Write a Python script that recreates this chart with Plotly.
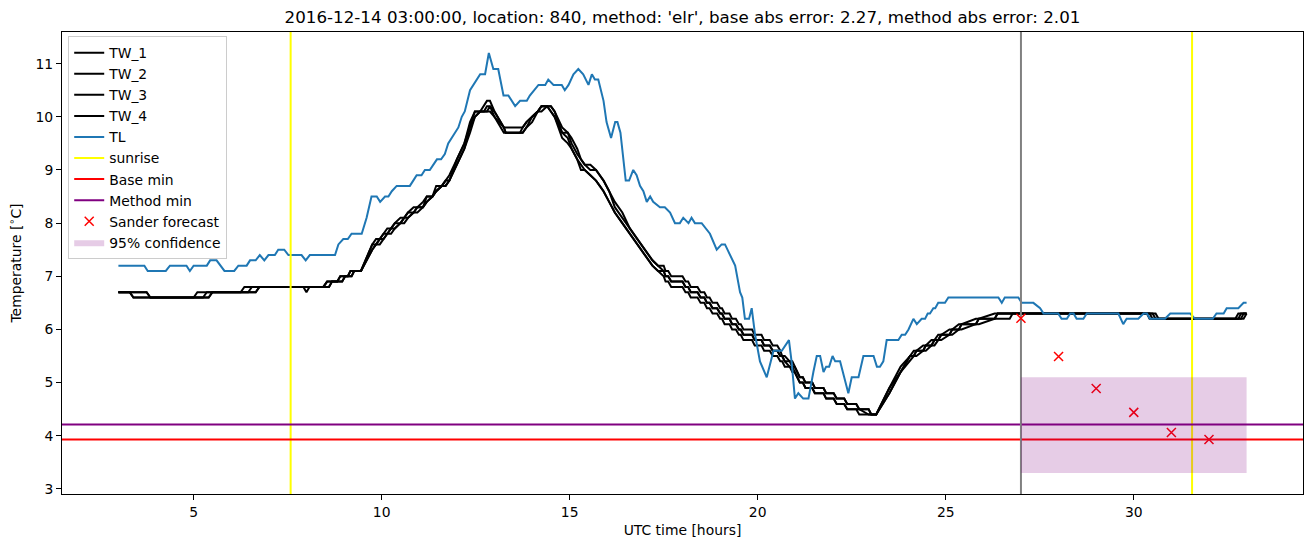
import plotly.graph_objects as go

# ---------------- data ----------------
tl_hours = [3.0, 3.69, 3.78, 4.26, 4.37, 4.81, 4.9, 5.0, 5.35, 5.44, 5.61, 5.72, 5.82, 6.08, 6.19, 6.41,
            6.5, 6.65, 6.76, 6.88, 6.99, 7.16, 7.25, 7.41, 7.52, 7.87, 7.98, 8.09, 8.76, 8.85, 8.98, 9.1,
            9.2, 9.47, 9.6, 9.73, 9.87, 9.96, 10.09, 10.18, 10.27, 10.4, 10.75, 10.84, 10.93, 11.06, 11.15,
            11.28, 11.38, 11.47, 11.58, 11.68, 11.77, 11.94, 12.04, 12.13, 12.21, 12.35, 12.53, 12.62, 12.75,
            12.85, 12.97, 13.1, 13.24, 13.37, 13.55, 13.68, 13.86, 13.94, 14.17, 14.35, 14.43, 14.57, 14.79,
            14.87, 14.97, 15.1, 15.23, 15.36, 15.5, 15.59, 15.67, 15.76, 15.9, 15.98, 16.1, 16.21, 16.27,
            16.35, 16.49, 16.58, 16.69, 16.78, 16.87, 16.96, 17.05, 17.14, 17.22, 17.4, 17.53, 17.67, 17.8,
            17.93, 18.02, 18.16, 18.24, 18.33, 18.51, 18.73, 18.91, 19.04, 19.13, 19.26, 19.4, 19.53, 19.59,
            19.66, 19.77, 19.84, 19.93, 20.06, 20.24, 20.42, 20.64, 20.83, 20.9, 20.99, 21.08, 21.21, 21.35,
            21.48, 21.57, 21.66, 21.75, 21.82, 21.9, 21.99, 22.06, 22.19, 22.41, 22.5, 22.68, 22.81, 23.08,
            23.17, 23.25, 23.34, 23.43, 23.74, 23.83, 23.92, 24.01, 24.14, 24.23, 24.36, 24.45, 24.52, 24.58,
            24.67, 24.72, 24.8, 24.98, 25.07, 26.4, 26.49, 26.57, 26.93, 27.02, 27.33, 27.51, 27.6, 27.99,
            28.08, 28.22, 28.31, 28.4, 28.48, 28.66, 28.75, 29.59, 29.72, 29.81, 30.12, 30.26, 30.35, 30.43,
            30.83, 30.97, 31.5, 31.63, 32.1, 32.2, 32.39, 32.47, 32.78, 32.92, 33.0]
tl_values = [7.2, 7.2, 7.1, 7.1, 7.2, 7.2, 7.1, 7.2, 7.2, 7.3, 7.3, 7.2, 7.1, 7.1, 7.2, 7.2,
             7.3, 7.3, 7.4, 7.3, 7.4, 7.4, 7.5, 7.5, 7.4, 7.4, 7.3, 7.4, 7.4, 7.6, 7.7, 7.7,
             7.8, 7.8, 8.1, 8.5, 8.5, 8.4, 8.5, 8.5, 8.6, 8.7, 8.7, 8.8, 8.9, 8.9, 9.0,
             9.0, 9.1, 9.2, 9.2, 9.3, 9.5, 9.7, 9.8, 10.0, 10.1, 10.5, 10.7, 10.8, 10.8,
             11.2, 10.9, 10.9, 10.4, 10.4, 10.2, 10.3, 10.3, 10.4, 10.6, 10.6, 10.7, 10.6, 10.6,
             10.5, 10.6, 10.8, 10.9, 10.8, 10.6, 10.8, 10.7, 10.7, 10.3, 9.9, 9.6, 9.9, 9.9,
             9.7, 8.8, 8.8, 9.0, 8.9, 8.7, 8.6, 8.4, 8.5, 8.4, 8.3, 8.3, 8.2, 8.0,
             8.0, 8.1, 8.0, 8.1, 8.0, 8.0, 7.8, 7.5, 7.6, 7.6, 7.4, 7.2, 6.7, 6.6,
             6.2, 6.2, 6.4, 5.9, 5.4, 5.1, 5.6, 5.6, 5.8, 5.4, 4.7, 4.8, 4.7, 4.7,
             5.2, 5.5, 5.5, 5.2, 5.3, 5.3, 5.5, 5.4, 5.4, 4.8, 5.1, 5.1, 5.5, 5.5,
             5.3, 5.3, 5.4, 5.8, 5.8, 5.9, 5.9, 6.0, 6.2, 6.1, 6.2, 6.2, 6.3, 6.3,
             6.4, 6.4, 6.5, 6.5, 6.6, 6.6, 6.5, 6.6, 6.6, 6.5, 6.5, 6.4, 6.3, 6.3,
             6.2, 6.2, 6.3, 6.3, 6.2, 6.2, 6.3, 6.3, 6.1, 6.2, 6.2, 6.3, 6.3, 6.2,
             6.2, 6.3, 6.3, 6.2, 6.2, 6.3, 6.3, 6.4, 6.4, 6.5, 6.5]

tw_hours = ([3.0, 3.3, 3.4, 3.75, 3.85, 5.0, 5.1, 5.25, 5.35, 5.4, 5.5, 6.25, 6.35, 6.45, 6.55, 6.65, 6.75,
             7.92, 8.0, 8.08, 8.45, 8.55, 8.6, 8.68, 8.82, 8.9, 8.95, 9.03, 9.1, 9.17, 9.2, 9.27, 9.45]
            + [9.75, 9.85, 9.95, 10.05, 10.15, 10.25, 10.35, 10.5, 10.6, 10.7, 10.85, 10.95, 11.1, 11.2,
               11.35, 11.45, 11.6, 11.7, 11.8, 12.0, 12.2, 12.35, 12.48, 12.62, 12.72, 12.8, 12.88, 13.0,
               13.25, 13.3, 13.68, 13.75, 13.85, 14.0, 14.15, 14.25, 14.4, 14.5, 14.6, 14.8, 14.95, 15.05,
               15.2, 15.3, 15.4, 15.55, 15.7, 15.8, 15.9, 16.05, 16.2, 16.4, 16.6, 16.8, 17.0, 17.2, 17.35]
            + [17.5, 17.55, 17.62, 17.7, 18.0, 18.08, 18.15, 18.22, 18.4, 18.48, 18.58, 18.65, 18.72, 18.8,
               18.92, 19.0, 19.05, 19.12, 19.25, 19.32, 19.42, 19.5, 19.55, 19.62, 19.85, 19.92, 20.1, 20.17,
               20.32, 20.4, 20.52, 20.6, 20.65, 20.72, 20.85, 20.92, 20.98, 21.05, 21.12, 21.2, 21.27, 21.45,
               21.52, 21.75, 21.82, 22.02, 22.1, 22.3, 22.38, 22.62, 22.7, 22.95, 23.02, 23.15]
            + [23.5, 23.8, 24.05, 24.15, 24.22, 24.4, 24.47, 24.62, 24.7, 24.8, 24.88, 25.1, 25.17, 25.35,
               25.42, 25.8, 25.88, 26.3, 26.38, 26.7, 26.78]
            + [30.35, 30.42, 30.5, 30.58, 30.66, 32.7, 32.78, 32.85, 32.92, 33.0])

tw_1 = ([6.7, 6.7, 6.6, 6.6, 6.6, 6.6, 6.7, 6.7, 6.7, 6.7, 6.7, 6.7, 6.8, 6.8, 6.8, 6.8, 6.8,
         6.8, 6.8, 6.8, 6.8, 6.9, 6.9, 6.9, 6.9, 7.0, 7.0, 7.0, 7.0, 7.1, 7.1, 7.1, 7.1]
        + [7.6, 7.7, 7.7, 7.8, 7.9, 7.9, 8.0, 8.1, 8.1, 8.2, 8.3, 8.3, 8.4, 8.5, 8.5, 8.7, 8.7, 8.8, 8.9,
           9.2, 9.5, 9.9, 10.1, 10.1, 10.2, 10.3, 10.3, 10.1, 9.8, 9.8, 9.8, 9.8, 9.9, 10.0, 10.1, 10.2,
           10.2, 10.1, 10.0, 9.6, 9.5, 9.4, 9.2, 9.0, 9.0, 8.9, 8.8, 8.7, 8.6, 8.4, 8.2, 8.0, 7.8, 7.6,
           7.4, 7.2, 7.1]
        + [7.0, 6.9, 6.9, 6.8, 6.8, 6.7, 6.7, 6.6, 6.6, 6.5, 6.5, 6.4, 6.4, 6.3, 6.3, 6.2, 6.2, 6.1,
           6.1, 6.0, 6.0, 5.9, 5.9, 5.8, 5.8, 5.7, 5.7, 5.6, 5.6, 5.5, 5.5, 5.4, 5.4, 5.3, 5.3, 5.2,
           5.2, 5.1, 5.0, 5.0, 4.9, 4.9, 4.8, 4.8, 4.7, 4.7, 4.6, 4.6, 4.5, 4.5, 4.4, 4.4, 4.4, 4.4]
        + [4.9, 5.3, 5.5, 5.6, 5.6, 5.7, 5.7, 5.8, 5.8, 5.9, 5.9, 6.0, 6.0, 6.1, 6.1, 6.2, 6.2, 6.3,
           6.3, 6.3, 6.3]
        + [6.3, 6.2, 6.2, 6.2, 6.2, 6.2, 6.3, 6.3, 6.3, 6.3])

tw_2 = ([6.7, 6.7, 6.6, 6.6, 6.6, 6.6, 6.6, 6.6, 6.7, 6.7, 6.7, 6.7, 6.7, 6.7, 6.8, 6.8, 6.8,
         6.8, 6.8, 6.8, 6.8, 6.9, 6.9, 6.9, 6.9, 7.0, 7.0, 7.0, 7.0, 7.1, 7.1, 7.1, 7.1]
        + [7.6, 7.6, 7.7, 7.8, 7.8, 7.9, 8.0, 8.0, 8.1, 8.2, 8.2, 8.3, 8.3, 8.5, 8.5, 8.6, 8.7, 8.8, 8.8,
           9.2, 9.5, 9.8, 10.1, 10.1, 10.1, 10.2, 10.2, 10.1, 9.8, 9.7, 9.7, 9.8, 9.9, 10.0, 10.1, 10.2,
           10.2, 10.1, 10.0, 9.7, 9.6, 9.4, 9.2, 9.1, 9.0, 8.9, 8.8, 8.7, 8.6, 8.4, 8.2, 8.0, 7.8, 7.6,
           7.4, 7.2, 7.1]
        + [7.1, 7.0, 7.0, 6.9, 6.9, 6.8, 6.8, 6.7, 6.7, 6.6, 6.6, 6.5, 6.5, 6.4, 6.4, 6.3, 6.3, 6.2,
           6.2, 6.1, 6.1, 6.0, 6.0, 5.9, 5.9, 5.8, 5.8, 5.7, 5.7, 5.6, 5.6, 5.5, 5.5, 5.4, 5.3, 5.3,
           5.2, 5.1, 5.0, 5.0, 4.9, 4.9, 4.8, 4.8, 4.7, 4.7, 4.6, 4.6, 4.5, 4.5, 4.5, 4.4, 4.4, 4.4]
        + [4.9, 5.2, 5.5, 5.5, 5.6, 5.6, 5.7, 5.7, 5.8, 5.8, 5.9, 5.9, 6.0, 6.0, 6.1, 6.1, 6.2, 6.2,
           6.3, 6.3, 6.3]
        + [6.3, 6.3, 6.2, 6.2, 6.2, 6.2, 6.2, 6.3, 6.3, 6.3])

tw_3 = ([6.7, 6.7, 6.7, 6.7, 6.6, 6.6, 6.6, 6.6, 6.6, 6.6, 6.7, 6.7, 6.7, 6.7, 6.7, 6.7, 6.8,
         6.8, 6.7, 6.8, 6.8, 6.8, 6.8, 6.9, 6.9, 6.9, 6.9, 7.0, 7.0, 7.0, 7.0, 7.1, 7.1]
        + [7.5, 7.6, 7.7, 7.7, 7.8, 7.9, 7.9, 8.0, 8.1, 8.1, 8.2, 8.3, 8.3, 8.4, 8.5, 8.6, 8.7, 8.7, 8.8,
           9.1, 9.4, 9.8, 10.0, 10.1, 10.1, 10.1, 10.2, 10.0, 9.7, 9.7, 9.7, 9.7, 9.8, 10.0, 10.1, 10.2,
           10.2, 10.2, 10.1, 9.7, 9.7, 9.5, 9.3, 9.2, 9.1, 9.0, 9.0, 8.9, 8.8, 8.6, 8.3, 8.1, 7.9, 7.7,
           7.5, 7.3, 7.2]
        + [7.1, 7.0, 7.0, 6.9, 6.9, 6.8, 6.8, 6.7, 6.7, 6.6, 6.6, 6.5, 6.5, 6.4, 6.4, 6.3, 6.3, 6.2,
           6.2, 6.1, 6.1, 6.0, 6.0, 5.9, 5.9, 5.8, 5.8, 5.7, 5.7, 5.6, 5.6, 5.5, 5.5, 5.4, 5.4, 5.3,
           5.3, 5.2, 5.1, 5.1, 5.0, 5.0, 4.9, 4.9, 4.8, 4.8, 4.7, 4.7, 4.6, 4.6, 4.5, 4.5, 4.4, 4.4]
        + [4.8, 5.2, 5.5, 5.5, 5.6, 5.6, 5.7, 5.7, 5.8, 5.8, 5.9, 5.9, 6.0, 6.0, 6.1, 6.1, 6.2, 6.2,
           6.3, 6.3, 6.3]
        + [6.3, 6.3, 6.3, 6.2, 6.2, 6.2, 6.2, 6.2, 6.3, 6.3])

tw_4 = ([6.7, 6.7, 6.7, 6.7, 6.6, 6.6, 6.6, 6.6, 6.6, 6.6, 6.7, 6.7, 6.7, 6.7, 6.7, 6.7, 6.8,
         6.8, 6.8, 6.8, 6.8, 6.8, 6.8, 6.9, 6.9, 6.9, 6.9, 7.0, 7.0, 7.0, 7.0, 7.1, 7.1]
        + [7.5, 7.6, 7.6, 7.7, 7.8, 7.8, 7.9, 8.0, 8.0, 8.1, 8.2, 8.2, 8.3, 8.4, 8.5, 8.6, 8.7, 8.7, 8.8,
           9.1, 9.4, 9.7, 10.0, 10.1, 10.1, 10.1, 10.1, 10.0, 9.8, 9.7, 9.7, 9.7, 9.8, 9.9, 10.1, 10.1,
           10.2, 10.2, 10.1, 9.8, 9.7, 9.6, 9.4, 9.2, 9.1, 9.1, 9.0, 8.9, 8.8, 8.6, 8.4, 8.2, 7.9, 7.7,
           7.5, 7.3, 7.2]
        + [7.2, 7.1, 7.1, 7.0, 7.0, 6.9, 6.9, 6.8, 6.8, 6.7, 6.7, 6.6, 6.6, 6.5, 6.5, 6.4, 6.4, 6.3,
           6.3, 6.2, 6.2, 6.1, 6.1, 6.0, 6.0, 5.9, 5.9, 5.8, 5.8, 5.7, 5.7, 5.6, 5.5, 5.5, 5.4, 5.4,
           5.3, 5.2, 5.1, 5.1, 5.0, 5.0, 4.9, 4.9, 4.8, 4.8, 4.7, 4.7, 4.6, 4.6, 4.5, 4.5, 4.4, 4.4]
        + [4.8, 5.2, 5.4, 5.5, 5.5, 5.6, 5.6, 5.7, 5.7, 5.8, 5.8, 5.9, 5.9, 6.0, 6.0, 6.1, 6.1, 6.2,
           6.2, 6.2, 6.3]
        + [6.3, 6.3, 6.3, 6.3, 6.2, 6.2, 6.2, 6.2, 6.2, 6.3])

sunrise_hours = [7.58, 31.55]
forecast_start_hour = 27.0
base_min = 3.93
method_min = 4.21
sander_hours = [27, 28, 29, 30, 31, 32]
sander_values = [6.21, 5.49, 4.89, 4.44, 4.06, 3.93]
conf_hours = [27.0, 33.0]
conf_low = 3.3
conf_high = 5.1

title_text = ("2016-12-14 03:00:00, location: 840, method: 'elr', "
              "base abs error: 2.27, method abs error: 2.01")

for s in (tw_1, tw_2, tw_3, tw_4):
    assert len(s) == len(tw_hours), (len(s), len(tw_hours))
assert len(tl_hours) == len(tl_values)

# ---------------- figure ----------------
X_RANGE = [1.5, 34.5]
Y_RANGE = [2.905, 11.595]
FONT = "DejaVu Sans"
FS = 13.9

fig = go.Figure()
for name, vals in (("TW_1", tw_1), ("TW_2", tw_2), ("TW_3", tw_3), ("TW_4", tw_4)):
    fig.add_trace(go.Scatter(x=tw_hours, y=vals, mode="lines", name=name,
                             line=dict(color="black", width=2)))
fig.add_trace(go.Scatter(x=tl_hours, y=tl_values, mode="lines", name="TL",
                         line=dict(color="#1f77b4", width=2)))

sx, sy = [], []
for h in sunrise_hours:
    sx += [h, h, None]
    sy += [Y_RANGE[0] - 1, Y_RANGE[1] + 1, None]
fig.add_trace(go.Scatter(x=sx, y=sy, mode="lines", name="sunrise",
                         line=dict(color="#ffff00", width=2)))
fig.add_trace(go.Scatter(x=[X_RANGE[0] - 1, X_RANGE[1] + 1], y=[base_min, base_min], mode="lines",
                         name="Base min", line=dict(color="#ff0000", width=2)))
fig.add_trace(go.Scatter(x=[X_RANGE[0] - 1, X_RANGE[1] + 1], y=[method_min, method_min], mode="lines",
                         name="Method min", line=dict(color="#800080", width=2)))
fig.add_trace(go.Scatter(x=[forecast_start_hour, forecast_start_hour],
                         y=[Y_RANGE[0] - 1, Y_RANGE[1] + 1], mode="lines", showlegend=False,
                         line=dict(color="#808080", width=2)))
fig.add_trace(go.Scatter(x=sander_hours, y=sander_values, mode="markers", name="Sander forecast",
                         marker=dict(symbol="x-thin", size=9, color="#ff0000",
                                     line=dict(color="#ff0000", width=1.5))))
fig.add_trace(go.Scatter(x=[conf_hours[0], conf_hours[1], conf_hours[1], conf_hours[0], conf_hours[0]],
                         y=[conf_low, conf_low, conf_high, conf_high, conf_low],
                         mode="lines", fill="toself", fillcolor="rgba(128,0,128,0.2)",
                         line=dict(width=0, color="rgba(128,0,128,0.2)"), name="95% confidence"))

axis_common = dict(showline=True, mirror=True, linecolor="black", linewidth=1,
                   ticks="outside", ticklen=5, tickwidth=1, tickcolor="black",
                   showgrid=False, zeroline=False,
                   tickfont=dict(family=FONT, size=FS, color="black"))

fig.update_layout(
    width=1311, height=547,
    margin=dict(l=62, r=8, t=32, b=53),
    paper_bgcolor="white", plot_bgcolor="white",
    font=dict(family=FONT, size=FS, color="black"),
    title=dict(text=title_text, x=0.5, xref="paper", xanchor="center",
               y=1 - 17 / 547, yref="container", yanchor="middle",
               font=dict(family=FONT, size=16.7, color="black")),
    xaxis=dict(range=X_RANGE, tick0=0, dtick=5,
               title=dict(text="UTC time [hours]", font=dict(family=FONT, size=FS), standoff=6),
               **axis_common),
    yaxis=dict(range=Y_RANGE, tick0=0, dtick=1,
               title=dict(text="Temperature [<sup>∘</sup>C]", font=dict(family=FONT, size=FS), standoff=10),
               **axis_common),
    legend=dict(x=0.005, y=0.991, xanchor="left", yanchor="top",
                bgcolor="rgba(255,255,255,0.8)", bordercolor="#cccccc", borderwidth=1,
                font=dict(family=FONT, size=FS, color="black"), itemwidth=30,
                tracegroupgap=0),
    showlegend=True,
)

fig.write_html("out.html")
